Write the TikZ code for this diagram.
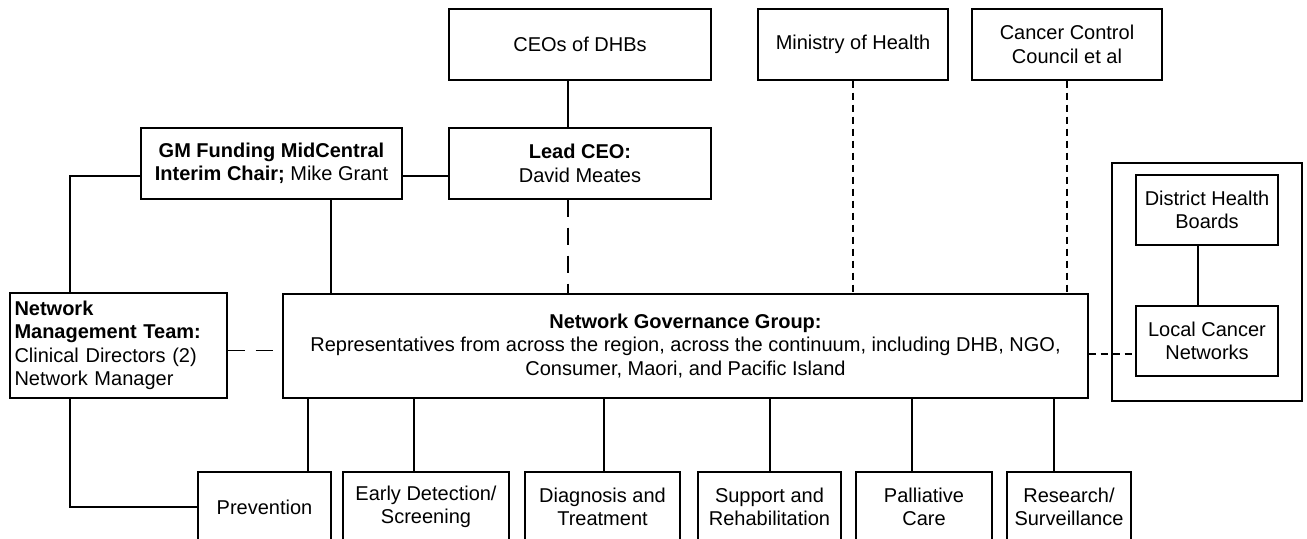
\documentclass[tikz,border=0pt]{standalone}
\usepackage{fontspec}
\setmainfont{Liberation Sans}
\usepackage{tikz}
\usetikzlibrary{positioning, calc}

\begin{document}
\begin{tikzpicture}[
  x=0.5pt, y=-0.5pt,
  line width=0.6pt,
  every node/.style={font=\fontsize{10}{11.75}\selectfont},
  box/.style={draw, minimum height=35.5pt, align=center, inner sep=2pt},
  unit/.style={draw, minimum height=35pt, align=center, inner sep=2pt},
  longdash/.style={dash pattern=on 8.5pt off 5.5pt},
  shortdash/.style={dash pattern=on 3.5pt off 2.5pt}
]
\useasboundingbox (0,0) rectangle (1307,538);
\clip (0,0) rectangle (1307,538);

% ---- Top row ----
\node[box, minimum width=131pt] (ceo) at (580,44.5) {CEOs of DHBs};
\node[box, minimum width=95pt] (moh) at (853,44.5) {Ministry of Health};
\node[box, minimum width=95pt] (ccc) at (1067,44.5) {Cancer Control\\Council et al};

% ---- Second row ----
\node[box, minimum width=130.5pt] (gm) at (271.5,163.5)
  {\textbf{GM Funding MidCentral}\\\textbf{Interim Chair;} Mike Grant};
\node[box, minimum width=131pt] (lead) at (580,163.5)
  {\textbf{Lead CEO:}\\David Meates};

% ---- Management team and governance group ----
\node[draw, minimum width=108.5pt, minimum height=52.5pt, text width=104pt,
      align=left, inner sep=2pt] (nmt) at (118.5,345.5)
  {\textbf{Network}\\\textbf{Management Team:}\\Clinical Directors (2)\\Network Manager};
\node[draw, minimum width=402.5pt, minimum height=52pt, align=center] (ngg) at (685.5,346)
  {\textbf{Network Governance Group:}\\
   Representatives from across the region, across the continuum, including DHB, NGO,\\
   Consumer, Maori, and Pacific Island};

% ---- Local side ----
\node[draw, minimum width=95pt, minimum height=119pt] (local) at (1207,282) {};
\node[unit, minimum width=71pt] (dhb) at (1207,210) {District Health\\Boards};
\node[unit, minimum width=71pt] (lcn) at (1207,341) {Local Cancer\\Networks};

% ---- Continuum ----
\node[unit, minimum width=66.5pt] (prev) at (264.5,507) {Prevention};
\node[unit, minimum width=83pt] (early) at (426,507) {Early Detection/\\Screening};
\node[unit, minimum width=77.5pt] (diag) at (602.5,507) {Diagnosis and\\Treatment};
\node[unit, minimum width=71.5pt] (supp) at (769.5,507) {Support and\\Rehabilitation};
\node[unit, minimum width=68pt] (pall) at (924,507) {Palliative\\Care};
\node[unit, minimum width=62pt] (res) at (1069,507) {Research/\\Surveillance};

% ---- Solid links ----
\draw ([xshift=-6pt]ceo.south) -- ([xshift=-6pt]lead.north);
\draw ([yshift=-6.25pt]gm.east) -- ([yshift=-6.25pt]lead.west);
\draw ([yshift=-6.25pt]gm.west) -| ([xshift=-24.25pt]nmt.north);
\coordinate (gmout) at ([xshift=29.75pt]gm.south);
\draw (gmout) -- (gmout |- ngg.north);
\draw ([xshift=-24.25pt]nmt.south) |- (prev.west);
\draw ([xshift=-4.5pt]dhb.south) -- ([xshift=-4.5pt]lcn.north);
\foreach \n/\dx in {prev/21.75pt, early/-6pt, diag/0.75pt, supp/0.25pt, pall/-6pt, res/-7.5pt} {
  \coordinate (top) at ([xshift=\dx]\n.north);
  \draw (top) -- (top |- ngg.south);
}

% ---- Dashed links ----
\coordinate (leadout) at ([xshift=-6pt]lead.south);
\draw[longdash] (leadout) -- (leadout |- ngg.north);
\draw[shortdash] (moh.south) -- (moh.south |- ngg.north);
\draw[shortdash] (ccc.south) -- (ccc.south |- ngg.north);
\coordinate (nmtout) at ([yshift=-2.5pt]nmt.east);
\draw[longdash] (nmtout) -- (nmtout -| ngg.west);
\coordinate (lcnin) at ([yshift=-6.5pt]lcn.west);
\draw[shortdash] (lcnin -| ngg.east) -- (lcnin);

\end{tikzpicture}
\end{document}
